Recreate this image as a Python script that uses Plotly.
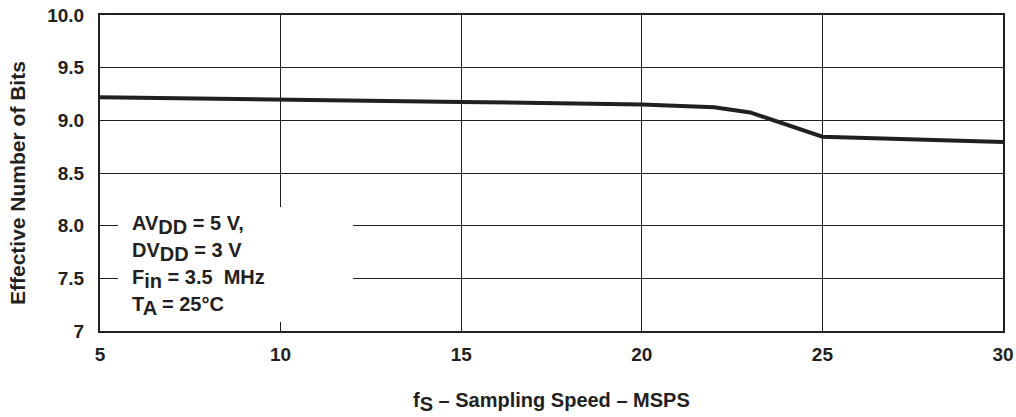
import plotly.graph_objects as go

# Data
fs_msps = [5, 10, 15, 20, 22, 23, 25, 30]
enob = [9.22, 9.20, 9.175, 9.15, 9.125, 9.075, 8.845, 8.795]

x_ticks = [5, 10, 15, 20, 25, 30]
x_ticktext = ["5", "10", "15", "20", "25", "30"]
y_ticks = [7, 7.5, 8, 8.5, 9, 9.5, 10]
y_ticktext = ["7", "7.5", "8.0", "8.5", "9.0", "9.5", "10.0"]

def sub(s, size):
    return "<sub><span style='font-size:%dpx'>%s</span></sub>" % (size, s)

ann_size = 20
cond_lines = [
    "AV" + sub("DD", ann_size) + " = 5 V,",
    "DV" + sub("DD", ann_size) + " = 3 V",
    "F" + sub("in", ann_size) + " = 3.5  MHz",
    "T" + sub("A", ann_size) + " = 25°C",
]

ink = "#231f20"
font = "Liberation Sans, Arial, sans-serif"

fig = go.Figure()
fig.add_trace(go.Scatter(
    x=fs_msps, y=enob, mode="lines",
    line=dict(color=ink, width=4),
    showlegend=False, hoverinfo="skip",
))

fig.update_layout(
    width=1016, height=417,
    margin=dict(l=100, r=13, t=15, b=86, autoexpand=False),
    paper_bgcolor="white", plot_bgcolor="white",
    font=dict(family=font, color=ink, size=16),
    xaxis=dict(
        range=[5, 30], tickvals=x_ticks, ticktext=x_ticktext,
        showgrid=True, gridcolor=ink, gridwidth=1,
        showline=True, linecolor=ink, linewidth=2, mirror=True,
        zeroline=False, ticks="", ticklabelstandoff=5, automargin=False,
        tickfont=dict(family=font, size=19, color=ink, weight="bold"),
    ),
    yaxis=dict(
        range=[7, 10], tickvals=y_ticks, ticktext=y_ticktext,
        showgrid=True, gridcolor=ink, gridwidth=1,
        showline=True, linecolor=ink, linewidth=2, mirror=True,
        zeroline=False, ticks="", ticklabelstandoff=10, automargin=False,
        tickfont=dict(family=font, size=19, color=ink, weight="bold"),
    ),
)

# white box behind the conditions text (covers gridlines)
fig.add_shape(type="rect", xref="paper", yref="paper",
              x0=(118 - 100) / 903, x1=(353 - 100) / 903,
              y0=1 - (322 - 15) / 316, y1=1 - (207 - 15) / 316,
              fillcolor="white", line=dict(width=0), layer="above")

ys_px = [225, 252, 279, 306]
for txt, ypx in zip(cond_lines, ys_px):
    fig.add_annotation(
        text="<b>" + txt + "</b>", xref="paper", yref="paper",
        x=(130 - 100) / 903, y=1 - (ypx - 15) / 316,
        xanchor="left", yanchor="middle", showarrow=False,
        font=dict(family=font, size=ann_size, color=ink),
    )

# axis titles
fig.add_annotation(
    text="<b>Effective Number of Bits</b>", xref="paper", yref="paper",
    x=(18 - 100) / 903, y=1 - (183 - 15) / 316, textangle=-90,
    xanchor="center", yanchor="middle", showarrow=False,
    font=dict(family=font, size=21, color=ink),
)
fig.add_annotation(
    text="<b>f" + sub("S", 20) + " – Sampling Speed – MSPS</b>",
    xref="paper", yref="paper",
    x=(551 - 100) / 903, y=1 - (402 - 15) / 316,
    xanchor="center", yanchor="middle", showarrow=False,
    font=dict(family=font, size=20, color=ink),
)

fig.write_html("out.html")
